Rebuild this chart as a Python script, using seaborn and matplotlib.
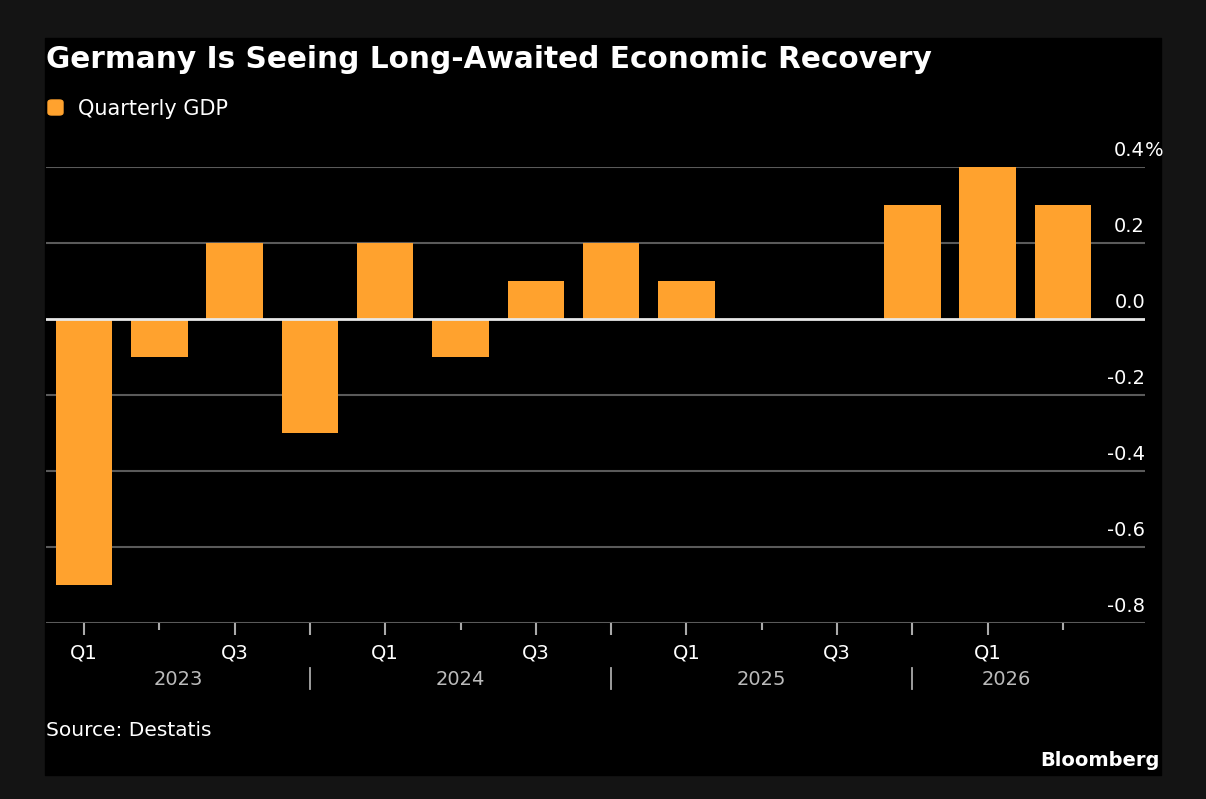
import matplotlib
matplotlib.use("Agg")
import matplotlib.pyplot as plt
from matplotlib.patches import Rectangle, FancyBboxPatch
from matplotlib.transforms import offset_copy
import seaborn as sns
import pandas as pd

# chart data
quarters = ["2023 Q1", "2023 Q2", "2023 Q3", "2023 Q4",
            "2024 Q1", "2024 Q2", "2024 Q3", "2024 Q4",
            "2025 Q1", "2025 Q2", "2025 Q3", "2025 Q4",
            "2026 Q1", "2026 Q2"]
gdp = [-0.7, -0.1, 0.2, -0.3, 0.2, -0.1, 0.1, 0.2, 0.1, 0.0, 0.0, 0.3, 0.4, 0.3]
quarter_labels = ["Q1", "", "Q3", "", "Q1", "", "Q3", "", "Q1", "", "Q3", "", "Q1", ""]
years = ["2023", "2024", "2025", "2026"]
ytick_values = [0.4, 0.2, 0.0, -0.2, -0.4, -0.6, -0.8]

title = "Germany Is Seeing Long-Awaited Economic Recovery"
legend_label = "Quarterly GDP"
source = "Source: Destatis"

ORANGE = "#FFA22E"
W, H = 1206, 799

df = pd.DataFrame({"quarter": quarters, "gdp": gdp})

fig = plt.figure(figsize=(W / 100, H / 100), dpi=100, facecolor="#141414")

# black panel behind the chart
fig.patches.append(Rectangle((45 / W, 1 - 775 / H), (1161 - 45) / W, (775 - 38) / H,
                             transform=fig.transFigure, color="black", zorder=-5))

ax = fig.add_axes([46 / W, 1 - 623 / H, 1099 / W, 456 / H])
ax.set_facecolor("black")

sns.barplot(data=df, x="quarter", y="gdp", color=ORANGE, saturation=1,
            width=0.75, linewidth=0, ax=ax, zorder=2)

ax.set_xlim(-0.505, 14.09)
ax.set_ylim(-0.8, 0.4)
for s in ax.spines.values():
    s.set_visible(False)
ax.set_xlabel("")
ax.set_ylabel("")

# gridlines + zero line
for v in ytick_values:
    if v == 0:
        ax.axhline(v, color="#e8e8e8", lw=2, zorder=3)
    else:
        ax.axhline(v, color="#5a5a5a", lw=1.5, zorder=1)

# y labels sit above the gridlines, right aligned
ax.set_yticks([])
ytrans = offset_copy(ax.get_yaxis_transform(), fig=fig, y=8, units="points")
for v in ytick_values:
    ax.text(1.0, v, f"{v:.1f}", transform=ytrans, ha="right", va="baseline",
            color="white", fontsize=14)
    if v == max(ytick_values):
        ax.text(1.0, v, "%", transform=ytrans, ha="left", va="baseline",
                color="white", fontsize=14)

# x ticks
ax.set_xticks(range(len(quarters)))
ax.set_xticklabels(quarter_labels)
ax.tick_params(axis="x", length=8.5, width=1.5, color="#aaaaaa",
               labelcolor="white", labelsize=14, pad=6)
for i, t in enumerate(ax.xaxis.get_major_ticks()):
    if quarter_labels[i]:
        t.tick1line.set_color("#e0e0e0")
    elif quarters[i].endswith("Q2"):
        t.tick1line.set_markersize(5)
        t.tick1line.set_color("#888888")

# year labels and separators
sep_idx = [i for i, q in enumerate(quarters) if q.endswith("Q4")]
bounds = [-0.5] + sep_idx + [len(quarters) - 0.5]
xtrans = ax.get_xaxis_transform()
for k, yr in enumerate(years):
    ax.text((bounds[k] + bounds[k + 1]) / 2, -0.136, yr, transform=xtrans,
            ha="center", va="baseline", color="#bbbbbb", fontsize=14)
for i in sep_idx:
    ax.plot([i, i], [-0.099, -0.145], transform=xtrans, color="#aaaaaa",
            lw=1.3, clip_on=False)

# title, legend, footer
fig.text(46 / W, 1 - 68 / H, title, fontsize=21.3, weight="bold", color="white",
         va="baseline")
fig.patches.append(FancyBboxPatch((48 / W, 1 - 115 / H), 15 / W, 15 / H,
                                  boxstyle="round,pad=0,rounding_size=0.003",
                                  transform=fig.transFigure, color=ORANGE))
fig.text(78 / W, 1 - 115 / H, legend_label, fontsize=15, color="white",
         va="baseline")
fig.text(46 / W, 1 - 736 / H, source, fontsize=14.5, color="white", va="baseline")
fig.text(1160 / W, 1 - 766 / H, "Bloomberg", fontsize=14, weight="bold",
         color="white", ha="right", va="baseline")

fig.savefig("out.png", dpi=100, facecolor=fig.get_facecolor())
